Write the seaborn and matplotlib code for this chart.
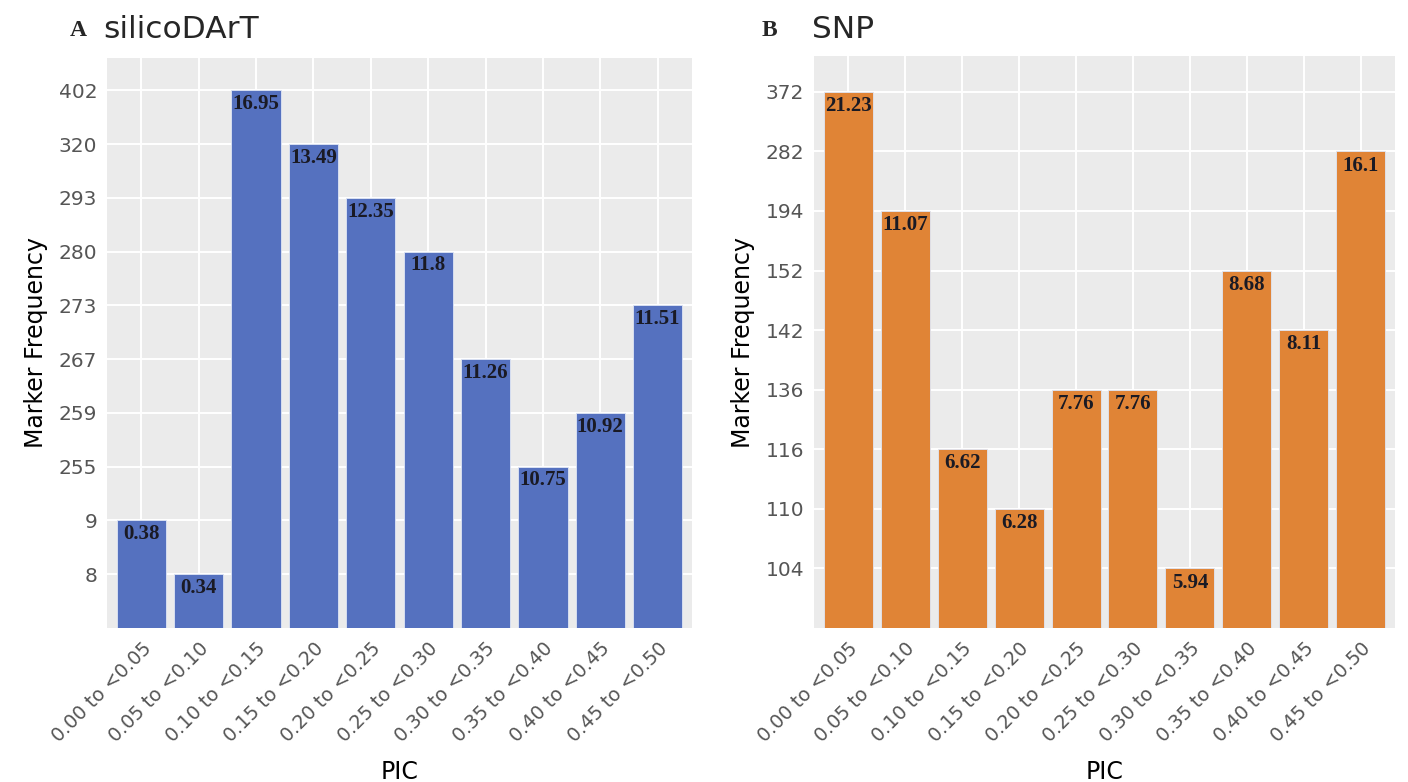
import matplotlib
matplotlib.use("Agg")
import matplotlib.pyplot as plt
import seaborn as sns
import pandas as pd

categories = ["0.00 to <0.05", "0.05 to <0.10", "0.10 to <0.15", "0.15 to <0.20",
              "0.20 to <0.25", "0.25 to <0.30", "0.30 to <0.35", "0.35 to <0.40",
              "0.40 to <0.45", "0.45 to <0.50"]
silico_counts = [9, 8, 402, 320, 293, 280, 267, 255, 259, 273]
silico_pct = ["0.38", "0.34", "16.95", "13.49", "12.35", "11.8", "11.26", "10.75", "10.92", "11.51"]
snp_counts = [372, 194, 116, 110, 136, 136, 104, 152, 142, 282]
snp_pct = ["21.23", "11.07", "6.62", "6.28", "7.76", "7.76", "5.94", "8.68", "8.11", "16.1"]

sns.set_theme(style="darkgrid")
plt.rcParams["font.family"] = ["DejaVu Sans"]

W, H = 1408, 782
fig = plt.figure(figsize=(W / 100, H / 100), dpi=100)

def px_axes(x0, y0, x1, y1):
    return fig.add_axes([x0 / W, 1 - y1 / H, (x1 - x0) / W, (y1 - y0) / H])

def panel(ax, counts, pct, color, letter, title, lx, tx):
    levels = sorted(set(counts))
    pos = [levels.index(c) + 1 for c in counts]
    df = pd.DataFrame({"PIC": categories, "pos": pos})
    sns.barplot(data=df, x="PIC", y="pos", color=color, width=0.86,
                saturation=1, edgecolor="#dfe6f5", linewidth=0.6, ax=ax)
    ax.set_facecolor("#EBEBEB")
    ax.grid(True, color="white", linewidth=1.4)
    ax.set_axisbelow(True)
    for s in ax.spines.values():
        s.set_visible(False)
    ax.set_xlim(-0.6, len(categories) - 0.4)
    ax.set_ylim(0, len(levels) + 0.6)
    ax.set_yticks(range(1, len(levels) + 1))
    ax.set_yticklabels([str(v) for v in levels])
    ax.set_xticks(range(len(categories)))
    ax.set_xticklabels(categories, rotation=45, ha="right", rotation_mode="anchor")
    ax.tick_params(axis="both", colors="#333333", labelcolor="#555555",
                   length=4, width=1.2, labelsize=13.8, pad=4)
    ax.tick_params(axis="y", labelsize=14.5, pad=3)
    ax.set_xlabel("PIC", fontsize=17, color="black", labelpad=10)
    ax.set_ylabel("Marker Frequency", fontsize=17, color="black", labelpad=8)
    for i, (p, t) in enumerate(zip(pos, pct)):
        ax.text(i, p - 0.07, t, ha="center", va="top", family="Liberation Serif",
                fontweight="bold", fontsize=15, color="#1a1a24")
    fig.text(lx / W, 1 - 31 / H, letter, family="Liberation Serif", fontweight="bold",
             fontsize=17, va="center", ha="left")
    fig.text(tx / W, 1 - 30 / H, title, fontsize=22.5, va="center", ha="left")

ax1 = px_axes(107, 58, 692, 628)
panel(ax1, silico_counts, silico_pct, "#5571BF", "A", "silicoDArT", 70, 103)
ax2 = px_axes(814, 56, 1395, 628)
panel(ax2, snp_counts, snp_pct, "#E08436", "B", "SNP", 762, 812)

fig.savefig("out.png", dpi=100)
